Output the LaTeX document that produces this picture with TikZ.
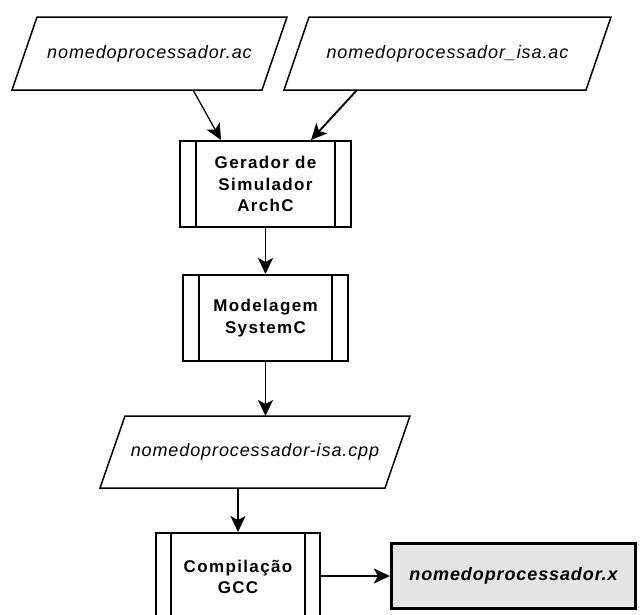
\documentclass[tikz,border=0pt]{standalone}
\usepackage{fontspec}
\setmainfont{Liberation Sans}
\newfontfamily\filefont{Liberation Sans}[LetterSpace=5]
\newfontfamily\procfont{Liberation Sans}[LetterSpace=8]
\usetikzlibrary{arrows.meta,calc}
\definecolor{outfill}{HTML}{E4E4E4}
\tikzset{
  para/.style={line width=1.5pt, line join=miter},
  filetext/.style={inner sep=0pt, font=\filefont\fontsize{18}{21}\selectfont\itshape},
  proc/.style={draw, line width=2pt, inner sep=0pt, align=center,
    font=\procfont\fontsize{17}{21.5}\selectfont\bfseries},
  procline/.style={line width=2pt},
  arr/.style={-{Stealth[length=16pt,width=15pt,inset=4pt]}, line width=1.9pt},
  outbox/.style={draw, fill=outfill, line width=3.3pt, inner sep=0pt,
    font=\filefont\fontsize{18}{21}\selectfont\bfseries\itshape},
}
\begin{document}
\begin{tikzpicture}[x=1pt,y=-1pt]
\useasboundingbox (0,0) rectangle (643,614);
\clip (0,0) rectangle (643,614);

% input files
\draw[para] (37,17) -- (287,17) -- (262,90) -- (12,90) -- cycle;
\node[filetext] (f1) at (149.5,53.5) {nomedoprocessador.ac};
\draw[para] (309,17) -- (611,17) -- (586,90) -- (284,90) -- cycle;
\node[filetext] (f2) at (447.5,53.5) {nomedoprocessador\_isa.ac};

% processes
\node[proc, minimum width=171pt, minimum height=86pt] (g) at (265.5,184)
  {Gerador de\\Simulador\\ArchC};
\draw[procline] ([xshift=17pt]g.north west) -- ([xshift=17pt]g.south west)
  ([xshift=-17pt]g.north east) -- ([xshift=-17pt]g.south east);

\node[proc, minimum width=165pt, minimum height=86pt] (m) at (265.5,318)
  {Modelagem\\SystemC};
\draw[procline] ([xshift=17pt]m.north west) -- ([xshift=17pt]m.south west)
  ([xshift=-17pt]m.north east) -- ([xshift=-17pt]m.south east);

% generated file
\draw[para] (125,416) -- (410,416) -- (385,488) -- (100,488) -- cycle;
\node[filetext] (f3) at (255,452) {nomedoprocessador-isa.cpp};

\node[proc, minimum width=164pt, minimum height=88pt] (c) at (238,577)
  {Compila\c{c}\~ao\\GCC};
\draw[procline] ([xshift=16pt]c.north west) -- ([xshift=16pt]c.south west)
  ([xshift=-16pt]c.north east) -- ([xshift=-16pt]c.south east);

\node[outbox, minimum width=244pt, minimum height=65pt] (o) at (513.5,576)
  {nomedoprocessador.x};

% connector end points on the parallelograms
\coordinate (f1out) at (193,90);
\coordinate (f2out) at (357,90);
\coordinate (f3in) at (265.5,416);
\coordinate (f3out) at (238,488);
\coordinate (gin1) at (221,140);
\coordinate (gin2) at (311,140);

\draw[arr, line width=1.3pt] (f1out) -- (gin1);
\draw[arr] (f2out) -- (gin2);
\draw[arr] (g.south) -- (m.north);
\draw[arr] (m.south) -- (f3in);
\draw[arr] (f3out) -- (c.north);
\draw[arr] (c.east |- o.west) -- (o.west);
\end{tikzpicture}
\end{document}
